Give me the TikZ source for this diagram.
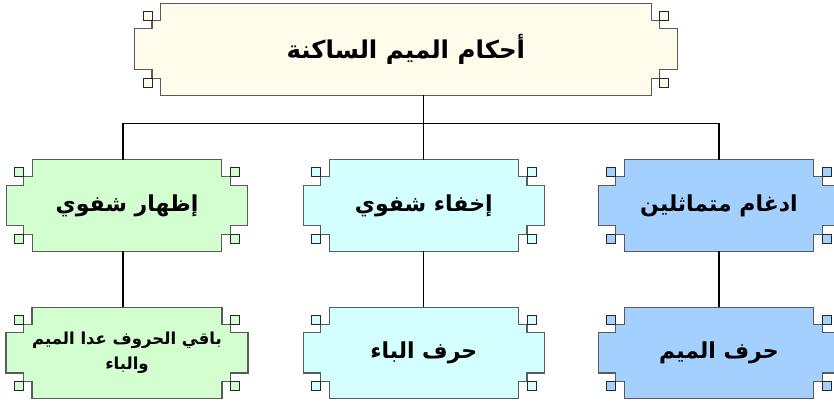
\documentclass[tikz,border=0pt]{standalone}
\usepackage{fontspec}
\TeXXeTstate=1
\newfontfamily\arabicfont[Script=Arabic]{DejaVu Sans}
\usetikzlibrary{backgrounds,calc}
\definecolor{creamfill}{RGB}{255,252,236}
\definecolor{greenfill}{RGB}{210,254,208}
\definecolor{cyanfill}{RGB}{212,255,255}
\definecolor{bluefill}{RGB}{164,208,255}
\definecolor{outlinegray}{RGB}{90,90,90}
\tikzset{
  boxnode/.style={draw=none, inner sep=0pt, minimum width=189pt, minimum height=91pt,
    font=\arabicfont\bfseries\fontsize{22}{28}\selectfont, align=center},
  link/.style={draw=black, line width=1.1pt},
  deco/.style={draw=outlinegray, line width=1.1pt},
  cornersq/.style={draw=black!85, line width=0.8pt},
}
\newcommand\notchdeco[2]{%
  \path[deco, fill=#2] (#1.north west) -- (#1.north east)
    -- ++(0,17) -- ++(8.5,0) -- ++(0,8.5) -- ++(17.5,0)
    -- ($(#1.south east)+(26,-25.5)$) -- ++(-17.5,0) -- ++(0,8.5) -- ++(-8.5,0) -- (#1.south east)
    -- (#1.south west) -- ++(0,-17) -- ++(-8.5,0) -- ++(0,-8.5) -- ++(-17.5,0)
    -- ($(#1.north west)+(-26,25.5)$) -- ++(17.5,0) -- ++(0,-8.5) -- ++(8.5,0) -- cycle;
  \path[cornersq, fill=#2] ($(#1.north west)+(-17.5,8)$) rectangle ++(9,9);
  \path[cornersq, fill=#2] ($(#1.north east)+(8.5,8)$) rectangle ++(9,9);
  \path[cornersq, fill=#2] ($(#1.south west)+(-17.5,-17)$) rectangle ++(9,9);
  \path[cornersq, fill=#2] ($(#1.south east)+(8.5,-17)$) rectangle ++(9,9);
}
\begin{document}
\begin{tikzpicture}[x=1pt,y=-1pt]
\useasboundingbox (0,0) rectangle (834,404);
% nodes
\node[boxnode, minimum width=490.3pt, minimum height=91.5pt, font=\arabicfont\bfseries\fontsize{24.5}{30}\selectfont] (top) at (405.85,49.25) {\beginR أحكام الميم الساكنة\endR};
\node[boxnode] (g2) at (127,205.35) {\beginR إظهار شفوي\endR};
\node[boxnode] (c2) at (423.8,205.35) {\beginR إخفاء شفوي\endR};
\node[boxnode] (b2) at (719,205.35) {\beginR ادغام متماثلين\endR};
\node[boxnode, font=\arabicfont\bfseries\fontsize{16.5}{25}\selectfont] (g3) at (127,352.8) {\beginR باقي الحروف عدا الميم\endR\\\beginR والباء\endR};
\node[boxnode] (c3) at (423.8,352.8) {\beginR حرف الباء\endR};
\node[boxnode] (b3) at (719,352.8) {\beginR حرف الميم\endR};
% decorations
\begin{scope}[on background layer]
  \notchdeco{top}{creamfill}
  \notchdeco{g2}{greenfill}
  \notchdeco{c2}{cyanfill}
  \notchdeco{b2}{bluefill}
  \notchdeco{g3}{greenfill}
  \notchdeco{c3}{cyanfill}
  \notchdeco{b3}{bluefill}
\end{scope}
% connectors
\draw[link] (top.south -| c2.north) -- (c2.north);
\draw[link] ([xshift=-4pt]g2.north) -- ++(0,-36) -| (b2.north);
\draw[link] ([xshift=-4pt]g2.south) -- ([xshift=-4pt]g3.north);
\draw[link] (c2.south) -- (c3.north);
\draw[link] (b2.south) -- (b3.north);
\end{tikzpicture}
\end{document}
